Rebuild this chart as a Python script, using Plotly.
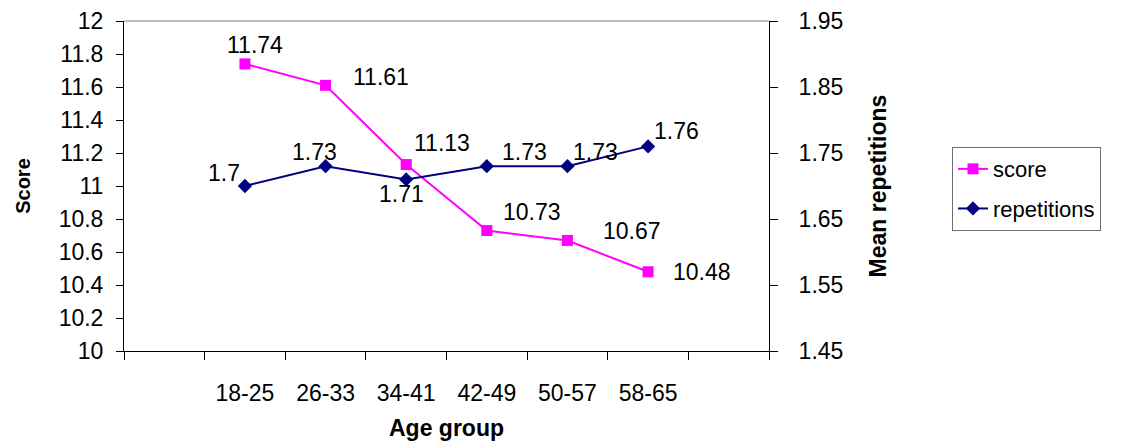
import plotly.graph_objects as go

# Age groups and the two series
age_groups = ["18-25", "26-33", "34-41", "42-49", "50-57", "58-65"]
score = [11.74, 11.61, 11.13, 10.73, 10.67, 10.48]
repetitions = [1.70, 1.73, 1.71, 1.73, 1.73, 1.76]

# Pixel offsets (dx, dy) of each value label from its marker
score_label_offsets = [(10, 19), (55, 8), (36, 22), (45, 19), (65, 9), (54, 0)]
rep_label_offsets = [(-21, 13), (-11, 14), (-5, -15), (38, 14), (28, 14), (28, 15)]

FONT = "Liberation Sans, Arial, sans-serif"
MAGENTA = "#FF00FF"
NAVY = "#000080"
TXT = 23

# one empty slot on each side of the age groups
x_pos = [i + 1.5 for i in range(len(age_groups))]
boundaries = list(range(len(age_groups) + 3))

fig = go.Figure()
fig.add_trace(go.Scatter(
    x=x_pos, y=score, name="score", mode="lines+markers",
    line=dict(color=MAGENTA, width=2),
    marker=dict(symbol="square", size=11, color=MAGENTA),
    legendgroup="a", yaxis="y",
))
fig.add_trace(go.Scatter(
    x=x_pos, y=repetitions, name="repetitions", mode="lines+markers",
    line=dict(color=NAVY, width=2),
    marker=dict(symbol="diamond", size=11, color=NAVY),
    legendgroup="b", yaxis="y2",
))

annotations = []
for xv, v, (dx, dy) in zip(x_pos, score, score_label_offsets):
    annotations.append(dict(x=xv, y=v, xref="x", yref="y", text=f"{v:g}",
                            showarrow=False, xshift=dx, yshift=dy,
                            font=dict(family=FONT, size=TXT, color="black")))
for xv, v, (dx, dy) in zip(x_pos, repetitions, rep_label_offsets):
    annotations.append(dict(x=xv, y=v, xref="x", yref="y2", text=f"{v:g}",
                            showarrow=False, xshift=dx, yshift=dy,
                            font=dict(family=FONT, size=TXT, color="black")))

fig.update_layout(
    width=1146, height=442,
    margin=dict(l=124, r=377, t=21, b=91, autoexpand=False),
    paper_bgcolor="white", plot_bgcolor="white",
    font=dict(family=FONT, size=TXT, color="black"),
    showlegend=True,
    legend=dict(
        x=1.2837, y=0.618, xanchor="left", yanchor="top",
        bordercolor="#6e6e6e", borderwidth=1,
        font=dict(family=FONT, size=22, color="black"),
        traceorder="grouped", tracegroupgap=8,
    ),
    annotations=annotations,
    shapes=[dict(type="line", xref="paper", yref="paper", x0=0, x1=1, y0=1, y1=1,
                 line=dict(color="#808080", width=1))],
    xaxis=dict(
        range=[0, len(age_groups) + 2], automargin=False,
        tickmode="array", tickvals=x_pos, ticktext=age_groups,
        ticks="", ticklabelstandoff=21,
        minor=dict(tickmode="array", tickvals=boundaries, ticks="outside",
                   ticklen=8, tickcolor="black", tickwidth=1),
        showgrid=False, zeroline=False,
        showline=True, linecolor="black", linewidth=1,
        title=dict(text="<b>Age group</b>", font=dict(family=FONT, size=23), standoff=15),
        tickfont=dict(family=FONT, size=TXT),
    ),
    yaxis=dict(
        range=[10, 12], dtick=0.2, tick0=10, automargin=False,
        ticks="outside", ticklen=7, tickcolor="black",
        ticklabelstandoff=8,
        showgrid=False, zeroline=False,
        showline=True, linecolor="black", linewidth=1,
        title=dict(text="<b>Score</b>", font=dict(family=FONT, size=20), standoff=22),
        tickfont=dict(family=FONT, size=TXT),
    ),
    yaxis2=dict(
        range=[1.45, 1.95], dtick=0.1, tick0=1.45, tickformat=".2f", automargin=False,
        overlaying="y", side="right",
        ticks="outside", ticklen=8, tickcolor="black",
        ticklabelstandoff=16,
        showgrid=False, zeroline=False,
        showline=True, linecolor="black", linewidth=1,
        title=dict(text="<b>Mean repetitions</b>", font=dict(family=FONT, size=23), standoff=27),
        tickfont=dict(family=FONT, size=TXT),
    ),
)

fig.write_html("out.html")
